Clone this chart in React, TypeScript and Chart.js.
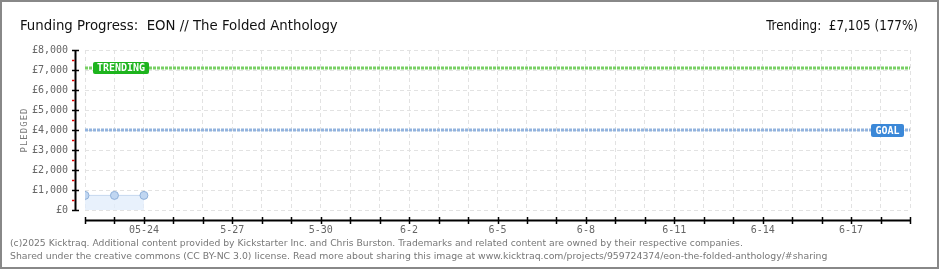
import React, { useEffect, useRef } from 'react';
import { Chart, registerables } from 'chart.js';

Chart.register(...registerables);

const titleText = 'Funding Progress:  EON // The Folded Anthology';
const trendingHeader = 'Trending:  £7,105 (177%)';
const footerLine1 =
  '(c)2025 Kicktraq. Additional content provided by Kickstarter Inc. and Chris Burston. Trademarks and related content are owned by their respective companies.';
const footerLine2 =
  'Shared under the creative commons (CC BY-NC 3.0) license. Read more about sharing this image at www.kicktraq.com/projects/959724374/eon-the-folded-anthology/#sharing';

const xLabels = [
  '', '', '05-24', '', '', '5-27', '', '', '5-30', '', '', '6-2', '', '', '6-5',
  '', '', '6-8', '', '', '6-11', '', '', '6-14', '', '', '6-17', '', '',
];
const pledgedDays = [0, 1, 2];
const pledgedValues = [730, 730, 730];
const goalValue = 4000;
const trendingValue = 7105;
const yMax = 8000;
const yStep = 1000;

const MONO = "'DejaVu Sans Mono', monospace";

function fitFont(ctx: CanvasRenderingContext2D, text: string, family: string, weight: string, target: number, maxSize: number) {
  ctx.font = `${weight} 20px ${family}`;
  const w = ctx.measureText(text).width;
  const size = Math.min(maxSize, (20 * target) / w);
  return `${weight} ${size.toFixed(2)}px ${family}`;
}

function drawTag(ctx: CanvasRenderingContext2D, x: number, y: number, w: number, h: number, color: string, text: string) {
  ctx.save();
  ctx.fillStyle = color;
  ctx.beginPath();
  const r = 2;
  ctx.moveTo(x + r, y);
  ctx.lineTo(x + w - r, y);
  ctx.quadraticCurveTo(x + w, y, x + w, y + r);
  ctx.lineTo(x + w, y + h - r);
  ctx.quadraticCurveTo(x + w, y + h, x + w - r, y + h);
  ctx.lineTo(x + r, y + h);
  ctx.quadraticCurveTo(x, y + h, x, y + h - r);
  ctx.lineTo(x, y + r);
  ctx.quadraticCurveTo(x, y, x + r, y);
  ctx.fill();
  ctx.fillStyle = '#ffffff';
  ctx.font = `bold 10px ${MONO}`;
  ctx.textAlign = 'center';
  ctx.textBaseline = 'middle';
  ctx.fillText(text, x + w / 2, y + h / 2 + 0.5, w - 6);
  ctx.restore();
}

const decorPlugin = {
  id: 'decor',
  afterDraw(chart: any) {
    const ctx: CanvasRenderingContext2D = chart.ctx;
    const xs = chart.scales.x;
    const ys = chart.scales.y;
    const area = chart.chartArea;
    ctx.save();

    // Title texts
    ctx.fillStyle = '#111';
    ctx.textBaseline = 'alphabetic';
    ctx.textAlign = 'left';
    const tFam = "'DejaVu Sans Condensed', 'Liberation Sans Narrow', 'Roboto', sans-serif";
    ctx.font = fitFont(ctx, titleText, tFam, 'normal', 318, 17);
    ctx.fillText(titleText, 20, 30);
    ctx.textAlign = 'right';
    ctx.font = fitFont(ctx, trendingHeader, tFam, 'normal', 152, 17);
    ctx.fillText(trendingHeader, 918, 30);

    // Footer
    ctx.textAlign = 'left';
    ctx.fillStyle = '#777';
    const fFam = "'DejaVu Sans', Verdana, sans-serif";
    ctx.font = fitFont(ctx, footerLine1, fFam, 'normal', 733, 10);
    ctx.fillText(footerLine1, 10, 246);
    ctx.font = fitFont(ctx, footerLine2, fFam, 'normal', 818, 10);
    ctx.fillText(footerLine2, 10, 259);

    // Y axis title
    ctx.save();
    ctx.translate(25, 130);
    ctx.rotate(-Math.PI / 2);
    ctx.fillStyle = '#777';
    ctx.font = `9px ${MONO}`;
    ctx.textAlign = 'center';
    ctx.textBaseline = 'middle';
    (ctx as any).letterSpacing = '1px';
    ctx.fillText('PLEDGED', 0, 0);
    ctx.restore();

    // Y axis line + ticks (offset left of chart area)
    const axX = 75.5;
    ctx.strokeStyle = '#000';
    ctx.lineWidth = 2;
    ctx.beginPath();
    ctx.moveTo(axX, ys.getPixelForValue(yMax));
    ctx.lineTo(axX, ys.getPixelForValue(0));
    ctx.stroke();
    for (let v = 0; v <= yMax; v += yStep / 2) {
      const py = Math.round(ys.getPixelForValue(v)) + 0.5;
      ctx.beginPath();
      if (v % yStep === 0) {
        ctx.strokeStyle = '#000';
        ctx.lineWidth = 1.5;
        ctx.moveTo(72, py);
        ctx.lineTo(79, py);
      } else {
        ctx.strokeStyle = '#e00000';
        ctx.lineWidth = 1.5;
        ctx.moveTo(72, py);
        ctx.lineTo(74.5, py);
      }
      ctx.stroke();
    }

    // X axis line + ticks (offset below chart area)
    const axY = 220.5;
    ctx.strokeStyle = '#000';
    ctx.lineWidth = 2;
    ctx.beginPath();
    ctx.moveTo(xs.getPixelForValue(0), axY);
    ctx.lineTo(xs.getPixelForValue(xLabels.length - 1), axY);
    ctx.stroke();
    ctx.lineWidth = 1.5;
    for (let i = 0; i < xLabels.length; i++) {
      const px = Math.round(xs.getPixelForValue(i)) + 0.5;
      ctx.beginPath();
      ctx.moveTo(px, 217);
      ctx.lineTo(px, 224);
      ctx.stroke();
    }

    // Tags
    const ty = ys.getPixelForValue(trendingValue);
    drawTag(ctx, area.left + 8, ty - 6, 56, 12, '#1db41d', 'TRENDING');
    const gy = ys.getPixelForValue(goalValue);
    drawTag(ctx, area.right - 39, gy - 6, 33, 13, '#3b88d8', 'GOAL');

    // Border
    ctx.strokeStyle = '#888';
    ctx.lineWidth = 2;
    ctx.strokeRect(1, 1, 937, 267);
    ctx.restore();
  },
};

export default function App() {
  const ref = useRef<HTMLCanvasElement | null>(null);
  useEffect(() => {
    if (!ref.current) return;
    const lastX = xLabels.length - 1;
    const chart = new Chart(ref.current, {
      type: 'line',
      data: {
        datasets: [
          {
            label: 'Trending',
            data: [
              { x: 0, y: trendingValue },
              { x: lastX, y: trendingValue },
            ],
            borderColor: '#78d064',
            borderWidth: 3,
            borderDash: [3, 1],
            pointRadius: 0,
            fill: false,
          },
          {
            label: 'Goal',
            data: [
              { x: 0, y: goalValue },
              { x: lastX, y: goalValue },
            ],
            borderColor: '#92b3de',
            borderWidth: 3,
            borderDash: [3, 1],
            pointRadius: 0,
            fill: false,
          },
          {
            label: 'Pledged',
            data: pledgedDays.map((d, i) => ({ x: d, y: pledgedValues[i] })),
            borderColor: '#c6d8ef',
            borderWidth: 1,
            backgroundColor: 'rgba(226,237,251,0.8)',
            fill: 'origin',
            pointRadius: 4,
            pointBackgroundColor: '#c0d6f1',
            pointBorderColor: '#8fb0d9',
            pointBorderWidth: 1,
            tension: 0,
          },
        ],
      },
      options: {
        responsive: false,
        animation: false,
        devicePixelRatio: 1,
        layout: { padding: { left: 0, right: 30, top: 50, bottom: 0 } },
        plugins: { legend: { display: false }, tooltip: { enabled: false }, title: { display: false } },
        scales: {
          x: {
            type: 'linear',
            min: 0,
            max: lastX,
            afterFit: (s: any) => {
              s.height = 60;
            },
            border: { display: false, dash: [4, 3] },
            grid: { color: '#e2e2e2', drawTicks: false, lineWidth: 1 },
            ticks: {
              stepSize: 1,
              autoSkip: false,
              maxRotation: 0,
              padding: 14,
              color: '#666',
              font: { family: MONO, size: 10 },
              callback: (v: any) => xLabels[Math.round(Number(v))] ?? '',
            },
          },
          y: {
            min: 0,
            max: yMax,
            afterFit: (s: any) => {
              s.width = 85;
            },
            border: { display: false, dash: [4, 3] },
            grid: { color: '#e2e2e2', drawTicks: false, lineWidth: 1 },
            ticks: {
              stepSize: yStep,
              padding: 17,
              color: '#666',
              font: { family: MONO, size: 10 },
              callback: (v: any) => '£' + Number(v).toLocaleString('en-US'),
            },
          },
        },
      },
      plugins: [decorPlugin],
    });
    return () => chart.destroy();
  }, []);
  return (
    <div style={{ position: 'absolute', left: 0, top: 0, width: 940, height: 270, background: '#fff' }}>
      <canvas ref={ref} width={940} height={270} style={{ width: 940, height: 270, display: 'block' }} />
    </div>
  );
}
